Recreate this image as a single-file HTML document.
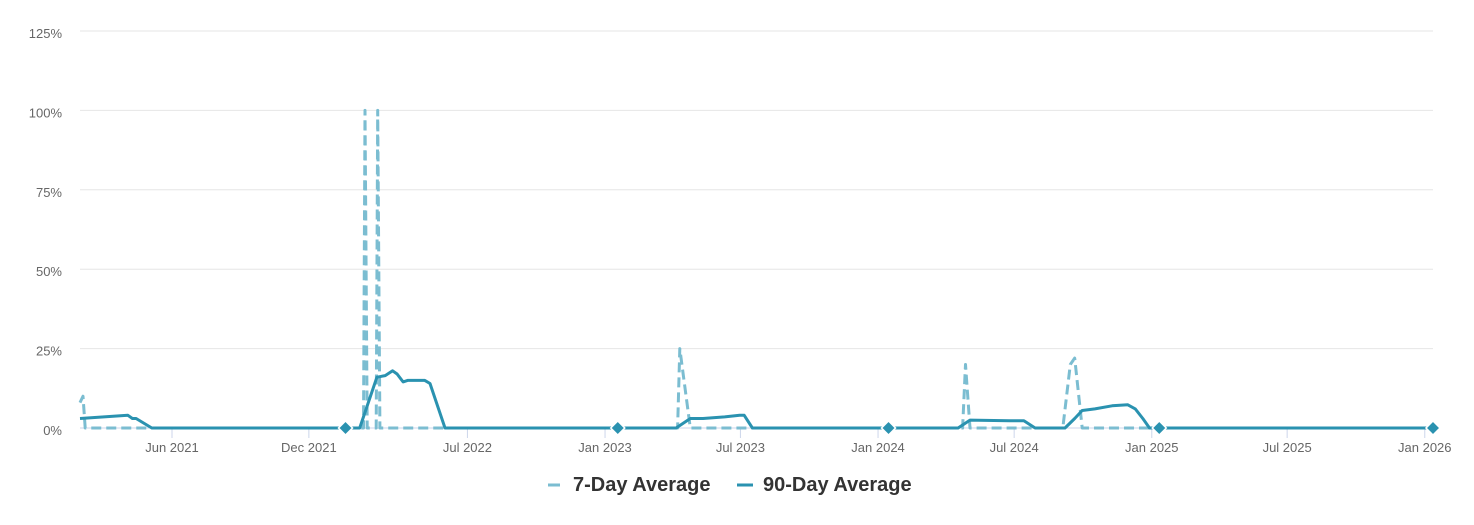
<!DOCTYPE html>
<html><head><meta charset="utf-8"><style>
body{margin:0;background:#fff;width:1474px;height:520px;overflow:hidden;font-family:"Liberation Sans",Arial,sans-serif}
</style></head><body>
<svg id="chart" width="1474" height="520" xmlns="http://www.w3.org/2000/svg" font-family="Liberation Sans, Arial, sans-serif"></svg>
<script>
const yTicks=[0,25,50,75,100,125];
const xTickLabels=["Jun 2021","Dec 2021","Jul 2022","Jan 2023","Jul 2023","Jan 2024","Jul 2024","Jan 2025","Jul 2025","Jan 2026"];
const xTickDates=["2021-06-01","2021-12-01","2022-07-01","2023-01-01","2023-07-01","2024-01-01","2024-07-01","2025-01-01","2025-07-01","2026-01-01"];
const avg90Dates=["2021-01-29","2021-04-03","2021-04-09","2021-04-14","2021-05-05","2022-02-07","2022-03-02","2022-03-13","2022-03-23","2022-03-29","2022-04-06","2022-04-12","2022-05-05","2022-05-12","2022-06-01","2023-04-06","2023-04-25","2023-05-12","2023-06-10","2023-06-30","2023-07-06","2023-07-17","2024-04-17","2024-05-03","2024-06-25","2024-07-14","2024-07-29","2024-09-07","2024-09-20","2024-09-30","2024-10-17","2024-11-09","2024-11-30","2024-12-10","2024-12-20","2024-12-29","2026-01-12"];
const avg90Values=[3,4,3,3,0,0,16,16.5,18,17,14.5,15,15,14,0,0,3,3,3.5,4,4,0,0,2.5,2.3,2.3,0,0,3,5.5,6,7,7.3,6,3,0,0];
const avg7Dates=["2021-01-29","2021-02-02","2021-02-05","2022-02-12","2022-02-14","2022-02-17","2022-03-01","2022-03-03","2022-03-06","2023-04-08","2023-04-11","2023-04-25","2024-04-23","2024-04-27","2024-05-03","2024-09-04","2024-09-14","2024-09-20","2024-09-30","2026-01-12"];
const avg7Values=[8,10,0,0,100,0,0,100,0,0,25,0,0,20,0,0,20,22,0,0];
const markerDates=["2022-01-19","2023-01-18","2024-01-15","2025-01-11","2026-01-12"];
const markerValues=[0,0,0,0,0];

const NS="http://www.w3.org/2000/svg";
const svg=document.getElementById('chart');
const X0=80,X1=1433,Y0=428,Y125=31;
const t0=Date.parse("2021-01-29"),t1=Date.parse("2026-01-12");
const xs=d=>X0+(Date.parse(d)-t0)/(t1-t0)*(X1-X0);
const ys=v=>Y0-v/125*(Y0-Y125);
function el(tag,attrs,parent){const e=document.createElementNS(NS,tag);for(const k in attrs)e.setAttribute(k,attrs[k]);(parent||svg).appendChild(e);return e;}

yTicks.forEach(v=>{
  const g=el('line',{x1:X0,x2:X1,y1:ys(v),y2:ys(v),stroke:v===0?'#ccd6eb':'#e6e6e6','stroke-width':1});
  
  
  const t=el('text',{x:62,y:ys(v)+7,'text-anchor':'end','font-size':13,fill:'#666'});
  t.textContent=v+'%';
  
  
});
xTickDates.forEach((d,i)=>{
  const x=xs(d);
  const tk=el('line',{x1:x,x2:x,y1:Y0,y2:Y0+10,stroke:'#ccd6eb','stroke-width':1});
  
  
  const t=el('text',{x:x,y:452,'text-anchor':'middle','font-size':13,fill:'#666'});
  t.textContent=xTickLabels[i];
  
  
});
function path(dates,vals){return dates.map((d,i)=>(i?'L':'M')+xs(d).toFixed(1)+','+ys(vals[i]).toFixed(1)).join(' ');}
const p7=el('path',{d:path(avg7Dates,avg7Values),fill:'none',stroke:'#7bbdd1','stroke-width':3,'stroke-dasharray':'10,5','stroke-linejoin':'round'});


const p90=el('path',{d:path(avg90Dates,avg90Values),fill:'none',stroke:'#2a92b0','stroke-width':3,'stroke-linejoin':'round'});


markerDates.forEach((d,i)=>{
  const x=xs(d),y=ys(markerValues[i]);
  const m=el('path',{d:`M${x},${y-7} L${x+7},${y} L${x},${y+7} L${x-7},${y} Z`,fill:'#2a92b0',stroke:'#fff','stroke-width':1.5});
  
  
});
const lg=el('g',{});


const l1=el('line',{x1:548,x2:560,y1:485,y2:485,stroke:'#7bbdd1','stroke-width':3},lg);


const t1e=el('text',{x:573,y:491,'font-size':20,'font-weight':'bold',fill:'#333'},lg);
t1e.textContent='7-Day Average';


const l2=el('line',{x1:737,x2:753,y1:485,y2:485,stroke:'#2a92b0','stroke-width':3},lg);


const t2e=el('text',{x:763,y:491,'font-size':20,'font-weight':'bold',fill:'#333'},lg);
t2e.textContent='90-Day Average';


</script>
</body></html>
